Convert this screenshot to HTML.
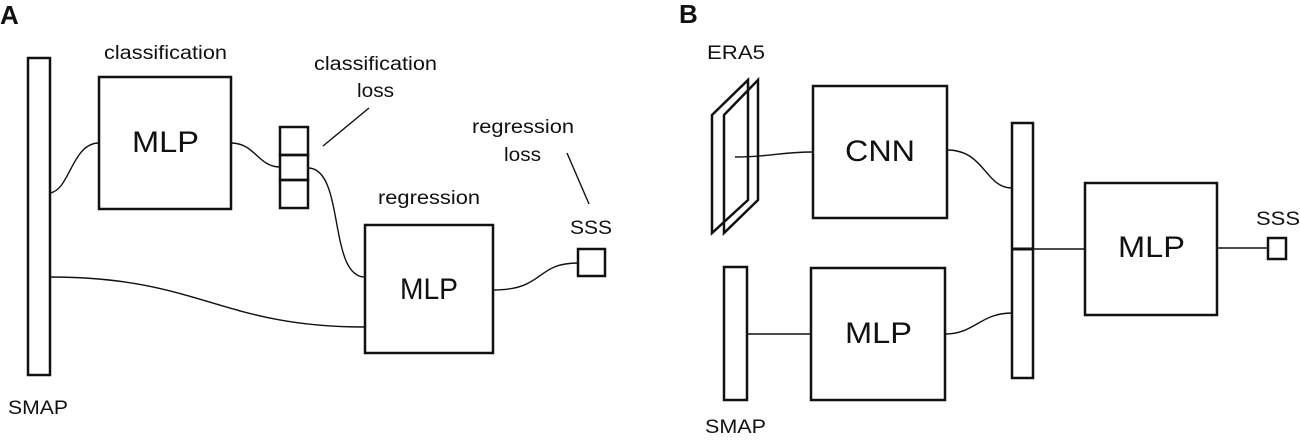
<!DOCTYPE html>
<html><head><meta charset="utf-8"><style>
html,body{margin:0;padding:0;background:#fff;}
svg{display:block;}
text{font-family:"Liberation Sans",Arial,sans-serif;fill:#111;}
</style></head><body>
<svg width="1300" height="446" viewBox="0 0 1300 446" xmlns="http://www.w3.org/2000/svg">
<g fill="none" stroke="#111" stroke-width="2.5">
<!-- Panel A -->
<rect x="28" y="58" width="22" height="317"/>
<rect x="99" y="77" width="132" height="132"/>
<rect x="280" y="127" width="28" height="28"/>
<rect x="280" y="155" width="28" height="25"/>
<rect x="280" y="180" width="28" height="28"/>
<rect x="365" y="225" width="128" height="128"/>
<rect x="578" y="249" width="27" height="27"/>
<!-- Panel B -->
<rect x="813" y="86" width="134" height="132"/>
<rect x="1012" y="123" width="21" height="255"/>
<rect x="724" y="267" width="23" height="133"/>
<rect x="811" y="268" width="134" height="132"/>
<rect x="1085" y="183" width="132" height="132"/>
<rect x="1268" y="238" width="18" height="21"/>
<polygon points="712,115 748,80 748,200 712,233"/>
<polygon points="724,115 758,80 758,200 724,233"/>
</g>
<g fill="none" stroke="#111" stroke-width="1.4">
<path d="M50,193 C70,190 72,143 99,143"/>
<path d="M231,143 C255,143 258,167 280,167"/>
<path d="M308,168 C345,168 328,277 365,277"/>
<path d="M50,277 C200,277 220,327 365,327"/>
<path d="M493,290 C545,290 535,263 578,263"/>
<line x1="369" y1="108" x2="323" y2="146"/>
<line x1="567" y1="153" x2="589" y2="204"/>
<path d="M735,157 C770,157 780,152 813,152"/>
<path d="M947,150 C985,150 985,188 1012,188"/>
<line x1="747" y1="334" x2="811" y2="334"/>
<path d="M945,334 C975,334 980,313 1012,313"/>
<line x1="1033" y1="249" x2="1085" y2="249"/>
<line x1="1217" y1="248" x2="1268" y2="248"/>
</g>
<line x1="1012" y1="249" x2="1033" y2="249" stroke="#111" stroke-width="3"/>
<!-- text -->
<text x="0" y="24" font-size="26" font-weight="bold">A</text>
<text x="679" y="23" font-size="26" font-weight="bold">B</text>
<g font-size="19">
<text x="104" y="59" textLength="123" lengthAdjust="spacingAndGlyphs">classification</text>
<text x="314" y="70" textLength="123" lengthAdjust="spacingAndGlyphs">classification</text>
<text x="357" y="97" textLength="37" lengthAdjust="spacingAndGlyphs">loss</text>
<text x="472" y="133" textLength="102" lengthAdjust="spacingAndGlyphs">regression</text>
<text x="504" y="161" textLength="37" lengthAdjust="spacingAndGlyphs">loss</text>
<text x="378" y="204" textLength="102" lengthAdjust="spacingAndGlyphs">regression</text>
<text x="570" y="234" textLength="42" lengthAdjust="spacingAndGlyphs">SSS</text>
<text x="8" y="414" textLength="60" lengthAdjust="spacingAndGlyphs">SMAP</text>
<text x="707" y="59" textLength="58" lengthAdjust="spacingAndGlyphs">ERA5</text>
<text x="1256" y="225" textLength="44" lengthAdjust="spacingAndGlyphs">SSS</text>
<text x="705" y="433" textLength="61" lengthAdjust="spacingAndGlyphs">SMAP</text>
</g>
<g font-size="30">
<text x="132" y="152" textLength="67" lengthAdjust="spacingAndGlyphs">MLP</text>
<text x="400" y="299" textLength="58" lengthAdjust="spacingAndGlyphs">MLP</text>
<text x="845" y="161" textLength="70" lengthAdjust="spacingAndGlyphs">CNN</text>
<text x="1118" y="257" textLength="67" lengthAdjust="spacingAndGlyphs">MLP</text>
<text x="845" y="343" textLength="67" lengthAdjust="spacingAndGlyphs">MLP</text>
</g>
</svg>
</body></html>
